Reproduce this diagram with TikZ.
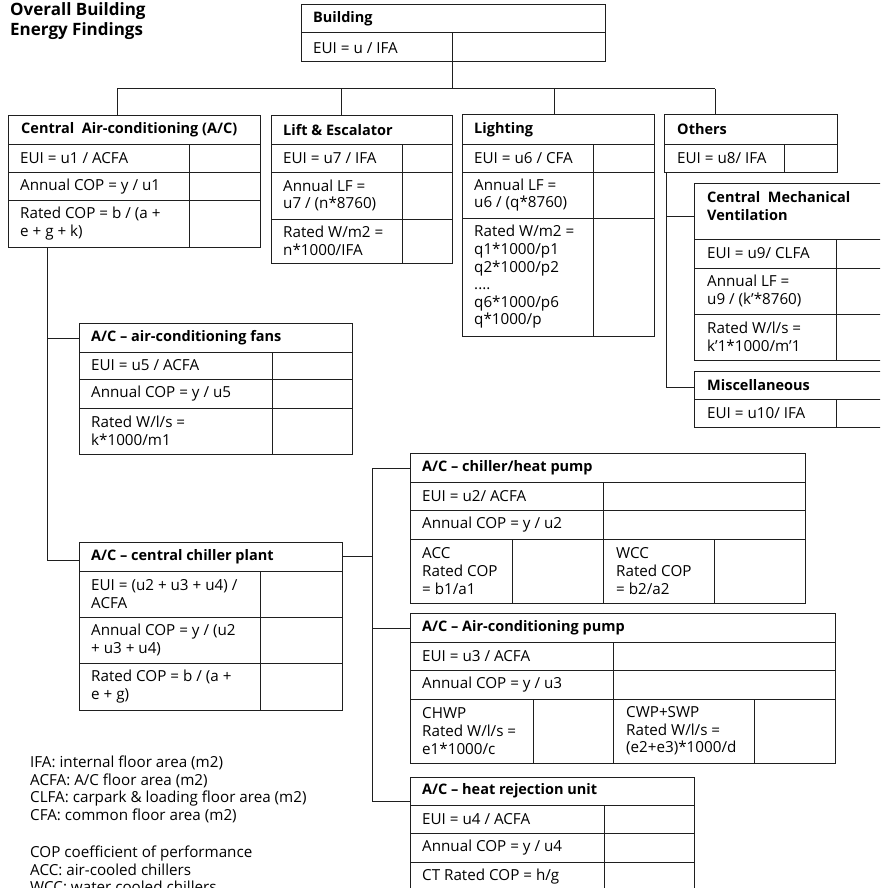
\documentclass[tikz,border=0pt]{standalone}
\usepackage{fontspec}
\setmainfont{Open Sans}
\colorlet{ink}{black!88}

% a framed table: name, left, top, right, bottom
\newcommand{\tablebox}[5]{%
  \pgfmathsetmacro{\tbw}{#4-#2}\pgfmathsetmacro{\tbh}{#5-#3}%
  \node[frame, minimum width=\tbw pt, minimum height=\tbh pt] (#1) at (#2,#3) {};}
% horizontal rule inside a table: x from, x to, y
\newcommand{\rowline}[3]{\draw[rule] (#1,#3) -- (#2,#3);}
% vertical rule inside a table: x, y from, y to
\newcommand{\colline}[3]{\draw[rule] (#1,#2) -- (#1,#3);}

\tikzset{
  frame/.style={draw=ink, line width=1pt, rectangle, inner sep=0pt, outer sep=0pt, anchor=north west},
  rule/.style={draw=ink, line width=1pt},
  link/.style={draw=ink, line width=1pt},
  hd/.style={anchor=west, inner sep=0pt, align=left, text=black,
    font=\fontsize{14.5}{18}\selectfont\bfseries},
  tx/.style={anchor=west, inner sep=0pt, align=left, text=black,
    font=\fontsize{15.2}{17.6}\selectfont},
  ttl/.style={anchor=west, inner sep=0pt, align=left, text=black,
    font=\fontsize{17}{20}\selectfont\bfseries},
}

\begin{document}
\begin{tikzpicture}[x=1pt,y=-1pt]
\useasboundingbox (0,0) rectangle (880,888);
\clip (0,0) rectangle (880,888);
\fill[white] (0,0) rectangle (880,888);

% title
\node[ttl] (title) at (10,21.5) {Overall Building\\Energy Findings};

% Building
\tablebox{bld}{301}{5}{605}{62}
\rowline{301}{605}{33} \colline{452}{33}{62}
\node[hd] (bldH) at (313,19) {Building};
\node[tx] (bldA) at (313,48) {EUI = u / IFA};

% Central air-conditioning
\tablebox{cac}{8}{116}{260}{247}
\rowline{8}{260}{144} \rowline{8}{260}{172} \rowline{8}{260}{200}
\colline{189}{144}{247}
\node[hd] (cacH) at (21,130) {Central\ \ Air-conditioning (A/C)};
\node[tx] (cacA) at (20,158) {EUI = u1 / ACFA};
\node[tx] (cacB) at (20,186.5) {Annual COP = y / u1};
\node[tx] (cacC) at (20,223.5) {Rated COP = b / (a +\\e + g + k)};

% Lift & escalator
\tablebox{lift}{271}{116}{452}{263}
\rowline{271}{452}{144} \rowline{271}{452}{172} \rowline{271}{452}{219}
\colline{402}{144}{263}
\node[hd] (liftH) at (283,130) {Lift \& Escalator};
\node[tx] (liftA) at (283,158) {EUI = u7 / IFA};
\node[tx] (liftB) at (283,195.5) {Annual LF =\\u7 / (n*8760)};
\node[tx] (liftC) at (283,241) {Rated W/m2 =\\n*1000/IFA};

% Lighting
\tablebox{light}{462}{115}{654}{336}
\rowline{462}{654}{144} \rowline{462}{654}{172} \rowline{462}{654}{218}
\colline{593}{144}{336}
\node[hd] (lightH) at (474,129.5) {Lighting};
\node[tx] (lightA) at (474,158) {EUI = u6 / CFA};
\node[tx] (lightB) at (474,195) {Annual LF =\\u6 / (q*8760)};
\node[tx] (lightC) at (474,277) {Rated W/m2 =\\q1*1000/p1\\q2*1000/p2\\....\\q6*1000/p6\\q*1000/p};

% Others
\tablebox{oth}{664}{115}{837}{172}
\rowline{664}{837}{144} \colline{784}{144}{172}
\node[hd] (othH) at (677,129.5) {Others};
\node[tx] (othA) at (677,158) {EUI = u8/ IFA};

% Central mechanical ventilation
\tablebox{cmv}{694}{183}{905}{360}
\rowline{694}{905}{239} \rowline{694}{905}{268} \rowline{694}{905}{314}
\colline{836}{239}{360}
\node[hd] (cmvH) at (707,206) {Central\ \ Mechanical\\Ventilation};
\node[tx] (cmvA) at (707,253.5) {EUI = u9/ CLFA};
\node[tx] (cmvB) at (707,291) {Annual LF =\\u9 / (k’*8760)};
\node[tx] (cmvC) at (707,337) {Rated W/l/s =\\k’1*1000/m’1};

% Miscellaneous
\tablebox{misc}{694}{371}{905}{427}
\rowline{694}{905}{399} \colline{836}{399}{427}
\node[hd] (miscH) at (707,385) {Miscellaneous};
\node[tx] (miscA) at (707,413) {EUI = u10/ IFA};

% A/C fans
\tablebox{fans}{79}{323}{352}{454}
\rowline{79}{352}{352} \rowline{79}{352}{379} \rowline{79}{352}{408}
\colline{272}{352}{454}
\node[hd] (fansH) at (91,337.5) {A/C – air-conditioning fans};
\node[tx] (fansA) at (91,365.5) {EUI = u5 / ACFA};
\node[tx] (fansB) at (91,394) {Annual COP = y / u5};
\node[tx] (fansC) at (91,431) {Rated W/l/s =\\k*1000/m1};

% A/C central chiller plant
\tablebox{plant}{79}{542}{342}{710}
\rowline{79}{342}{571} \rowline{79}{342}{617} \rowline{79}{342}{663}
\colline{260}{571}{710}
\node[hd] (plantH) at (91,556.5) {A/C – central chiller plant};
\node[tx] (plantA) at (91,594) {EUI = (u2 + u3 + u4) /\\ACFA};
\node[tx] (plantB) at (91,640) {Annual COP = y / (u2\\+ u3 + u4)};
\node[tx] (plantC) at (91,686.5) {Rated COP = b / (a +\\e + g)};

% A/C chiller / heat pump
\tablebox{chp}{410}{453}{805}{603}
\rowline{410}{805}{482} \rowline{410}{805}{510} \rowline{410}{805}{539}
\colline{603}{482}{603} \colline{512}{539}{603} \colline{714}{539}{603}
\node[hd] (chpH) at (422,467.5) {A/C – chiller/heat pump};
\node[tx] (chpA) at (422,496) {EUI = u2/ ACFA};
\node[tx] (chpB) at (422,525) {Annual COP = y / u2};
\node[tx] (chpC) at (422,571) {ACC\\Rated COP\\= b1/a1};
\node[tx] (chpD) at (616,571) {WCC\\Rated COP\\= b2/a2};

% A/C air-conditioning pump
\tablebox{pump}{410}{613}{835}{763}
\rowline{410}{835}{642} \rowline{410}{835}{670} \rowline{410}{835}{699}
\colline{613}{642}{763} \colline{533}{699}{763} \colline{754}{699}{763}
\node[hd] (pumpH) at (422,627.5) {A/C – Air-conditioning pump};
\node[tx] (pumpA) at (422,656) {EUI = u3 / ACFA};
\node[tx] (pumpB) at (422,685) {Annual COP = y / u3};
\node[tx] (pumpC) at (422,731) {CHWP\\Rated W/l/s =\\e1*1000/c};
\node[tx] (pumpD) at (626,731) {CWP+SWP\\Rated W/l/s =\\(e2+e3)*1000/d};

% A/C heat rejection unit
\tablebox{hru}{410}{777}{694}{892}
\rowline{410}{694}{805} \rowline{410}{694}{833} \rowline{410}{694}{862}
\colline{604}{805}{892}
\node[hd] (hruH) at (422,791) {A/C – heat rejection unit};
\node[tx] (hruA) at (422,819) {EUI = u4 / ACFA};
\node[tx] (hruB) at (422,848) {Annual COP = y / u4};
\node[tx] (hruC) at (422,877) {CT Rated COP = h/g};

% abbreviations
\node[tx] (legA) at (30,789.5) {IFA: internal floor area (m2)\\ACFA: A/C floor area (m2)\\CLFA: carpark \& loading floor area (m2)\\CFA: common floor area (m2)};
\node[tx] (legB) at (30,869.5) {COP coefficient of performance\\ACC: air-cooled chillers\\WCC: water cooled chillers};

% top-level tree
\coordinate (bus) at (452,89);
\coordinate (busW) at (117,89);
\coordinate (busE) at (715,89);
\coordinate (dLift) at (341,89);
\coordinate (dLight) at (554,89);
\draw[link] (bld.south -| bus) -- (bus);
\draw[link] (busW) -- (busE);
\draw[link] (busW) -- (busW |- cac.north);
\draw[link] (dLift) -- (dLift |- lift.north);
\draw[link] (dLight) -- (dLight |- light.north);
\draw[link] (busE) -- (busE |- oth.north);

% others branch
\coordinate (oCmv) at (666,216);
\coordinate (oMisc) at (666,387);
\draw[link] (oCmv |- oth.south) -- (oMisc) -- (oMisc -| misc.west);
\draw[link] (oCmv) -- (oCmv -| cmv.west);

% air-conditioning branch
\coordinate (cFans) at (47,338);
\coordinate (cPlant) at (47,560);
\draw[link] (cFans |- cac.south) -- (cPlant) -- (cPlant -| plant.west);
\draw[link] (cFans) -- (cFans -| fans.west);

% chiller plant branch
\coordinate (pMid) at (372,556);
\coordinate (pChp) at (372,468);
\coordinate (pPump) at (372,628);
\coordinate (pHru) at (372,801);
\draw[link] (pMid -| plant.east) -- (pMid);
\draw[link] (pChp) -- (pHru) -- (pHru -| hru.west);
\draw[link] (pChp) -- (pChp -| chp.west);
\draw[link] (pPump) -- (pPump -| pump.west);
\end{tikzpicture}
\end{document}
